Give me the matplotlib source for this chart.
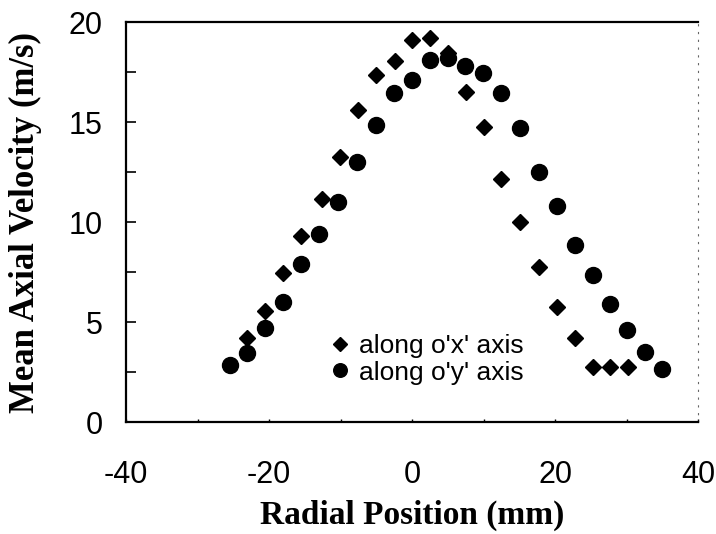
import matplotlib
matplotlib.use("Agg")
import matplotlib.pyplot as plt
from matplotlib.ticker import MultipleLocator

plt.rcParams["axes.unicode_minus"] = False

# Radial profiles of mean axial velocity
x_pos_ox = [-23.1, -20.5, -18.1, -15.5, -12.6, -10.1, -7.5, -5.0, -2.4, 0.0, 2.5,
            5.0, 7.5, 10.0, 12.5, 15.1, 17.7, 20.2, 22.8, 25.3, 27.7, 30.2]
vel_ox = [4.2, 5.57, 7.47, 9.3, 11.15, 13.27, 15.6, 17.35, 18.07, 19.1, 19.2,
          18.43, 16.5, 14.77, 12.15, 10.0, 7.77, 5.77, 4.18, 2.77, 2.77, 2.77]

x_pos_oy = [-25.5, -23.1, -20.6, -18.1, -15.6, -13.0, -10.35, -7.7, -5.1, -2.5, 0.0,
            2.5, 5.0, 7.4, 9.9, 12.5, 15.1, 17.7, 20.2, 22.8, 25.3, 27.7, 30.1,
            32.6, 35.0]
vel_oy = [2.85, 3.47, 4.7, 6.0, 7.9, 9.4, 11.0, 12.98, 14.83, 16.47, 17.1,
          18.1, 18.2, 17.8, 17.43, 16.43, 14.68, 12.5, 10.8, 8.85, 7.35, 5.9, 4.6,
          3.52, 2.63]

series_labels = ["along o'x' axis", "along o'y' axis"]
x_ticks = [-40, -20, 0, 20, 40]
y_ticks = [0, 5, 10, 15, 20]

fig = plt.figure(figsize=(7.16, 5.34), dpi=100)
ax = fig.add_axes([0.176, 0.2097, 0.799, 0.7491])

ax.plot(x_pos_ox, vel_ox, linestyle="none", marker="D", markersize=8.2,
        color="black", label=series_labels[0])
ax.plot(x_pos_oy, vel_oy, linestyle="none", marker="o", markersize=11.5,
        color="black", label=series_labels[1])

ax.set_xlim(-40, 40)
ax.set_ylim(0, 20)
ax.set_xticks(x_ticks)
ax.set_yticks(y_ticks)
ax.xaxis.set_minor_locator(MultipleLocator(10))
ax.yaxis.set_minor_locator(MultipleLocator(2.5))

tick_font = "Liberation Sans"
for lab in ax.get_xticklabels() + ax.get_yticklabels():
    lab.set_fontfamily(tick_font)
    lab.set_fontsize(22)

ax.tick_params(axis="x", which="both", direction="in", length=2.5, width=1,
               pad=27, top=False)
ax.tick_params(axis="y", which="both", direction="in", length=7.5, width=1.2,
               pad=17, right=False)

for side in ("left", "bottom", "top"):
    ax.spines[side].set_linewidth(1.6)
ax.spines["right"].set_linewidth(0.8)
ax.spines["right"].set_linestyle((0, (1, 6)))
ax.spines["right"].set_color("#666666")

ax.set_xlabel("Radial Position (mm)", family="Liberation Serif",
              fontweight="bold", fontsize=24)
ax.set_ylabel("Mean Axial Velocity (m/s)", family="Liberation Serif",
              fontweight="bold", fontsize=25)
ax.xaxis.set_label_coords(0.5, -0.195)
ax.yaxis.set_label_coords(-0.147, 0.5)

leg = ax.legend(loc="upper left", bbox_to_anchor=(0.36, 0.22), frameon=False,
                prop={"family": "Liberation Sans", "size": 19},
                markerscale=0.85, handlelength=0.6, handletextpad=0.43,
                labelspacing=0.1, borderpad=0, borderaxespad=0)

fig.savefig("out.png", dpi=100)
